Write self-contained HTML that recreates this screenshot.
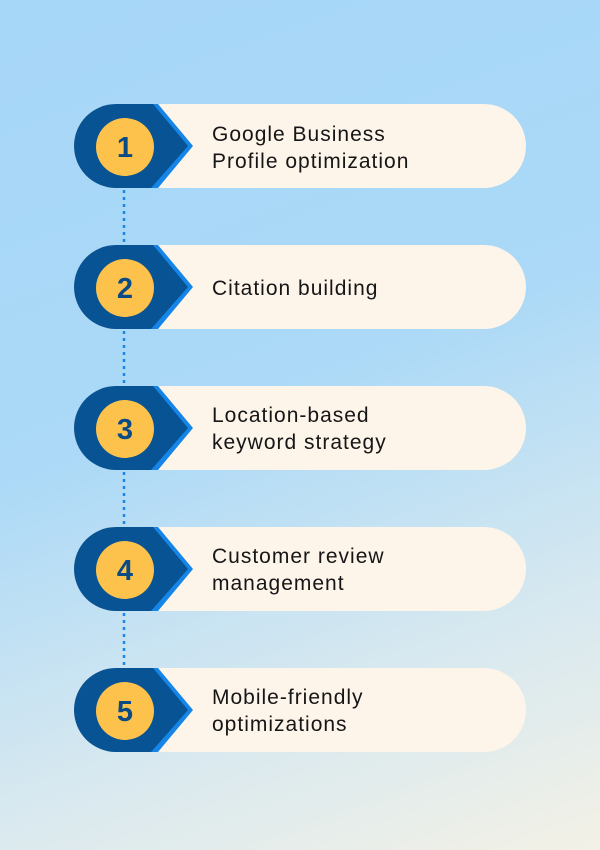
<!DOCTYPE html>
<html><head><meta charset="utf-8"><style>
html,body{margin:0;padding:0}
body{width:600px;height:850px;overflow:hidden;background:linear-gradient(160deg,#a6d6f8 0%,#abd9f7 45%,#d6e8f0 75%,#f3f1e6 100%)}
svg{display:block}
</style></head><body>
<svg width="600" height="850" xmlns="http://www.w3.org/2000/svg" font-family="Liberation Sans, sans-serif">
<g stroke="#1a86e6" stroke-width="2.5" stroke-dasharray="3,4">
<line x1="124" y1="190" x2="124" y2="245"/>
<line x1="124" y1="331" x2="124" y2="386"/>
<line x1="124" y1="472" x2="124" y2="527"/>
<line x1="124" y1="613" x2="124" y2="668"/>
</g>
<defs>
<g id="it">
<rect x="74" y="0" width="452" height="84" rx="42" fill="#fdf4ea"/>
<path d="M116,0 H158 L193,42 L158,84 H116 Z" fill="#1585e8"/>
<path d="M116,0 H153 L188,42 L151,84 H116 A42,42 0 0 1 116,0 Z" fill="#075393"/>
<circle cx="125" cy="43" r="29" fill="#fdc24c"/>
</g>
</defs>
<g font-size="21" fill="#161616" letter-spacing="1">
<use href="#it" y="104"/>
<text x="125" y="157" font-size="29" font-weight="bold" fill="#0a4a85" text-anchor="middle" letter-spacing="0">1</text>
<text x="212" y="141">Google Business</text><text x="212" y="168">Profile optimization</text>
<use href="#it" y="245"/>
<text x="125" y="298" font-size="29" font-weight="bold" fill="#0a4a85" text-anchor="middle" letter-spacing="0">2</text>
<text x="212" y="295">Citation building</text>
<use href="#it" y="386"/>
<text x="125" y="439" font-size="29" font-weight="bold" fill="#0a4a85" text-anchor="middle" letter-spacing="0">3</text>
<text x="212" y="422">Location-based</text><text x="212" y="449">keyword strategy</text>
<use href="#it" y="527"/>
<text x="125" y="580" font-size="29" font-weight="bold" fill="#0a4a85" text-anchor="middle" letter-spacing="0">4</text>
<text x="212" y="563">Customer review</text><text x="212" y="590">management</text>
<use href="#it" y="668"/>
<text x="125" y="721" font-size="29" font-weight="bold" fill="#0a4a85" text-anchor="middle" letter-spacing="0">5</text>
<text x="212" y="704">Mobile-friendly</text><text x="212" y="731">optimizations</text>
</g>
</svg>
</body></html>
